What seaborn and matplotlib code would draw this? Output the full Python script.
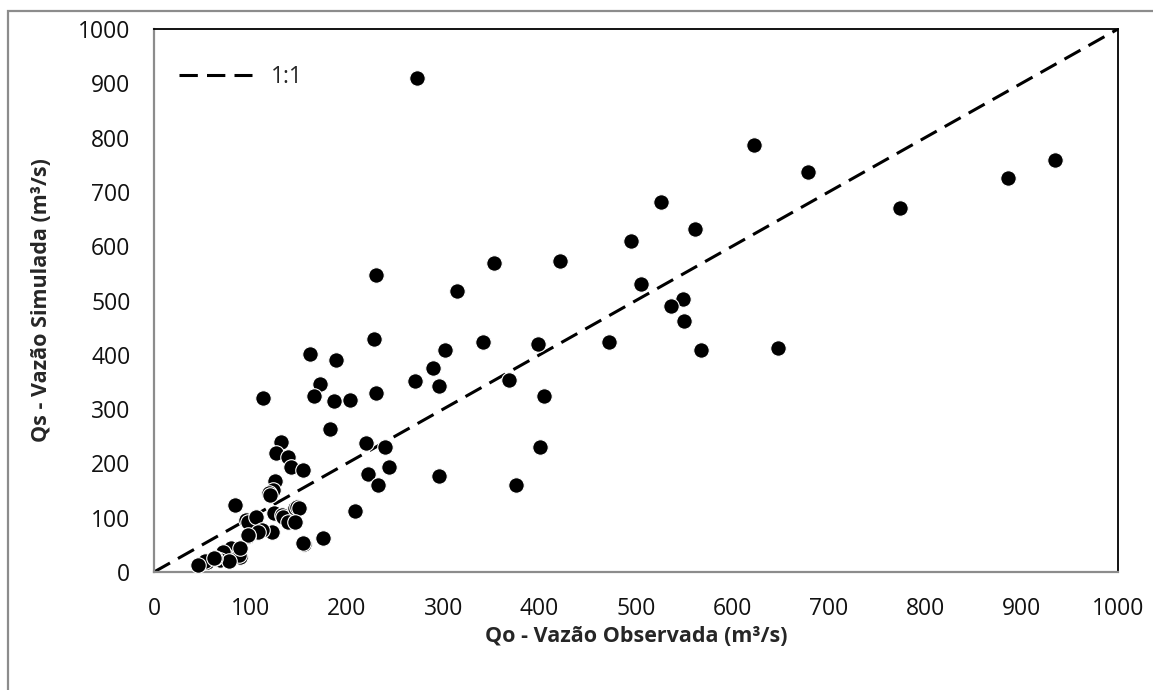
import matplotlib.pyplot as plt
import seaborn as sns
from matplotlib.patches import Rectangle

q_obs = [273, 622, 678, 526, 774, 886, 935, 561, 495, 353, 421, 230, 505, 314,
         549, 536, 550, 228, 302, 341, 398, 472, 567, 647, 162, 189, 289, 271,
         296, 368, 405, 400, 296, 376,
         113, 172, 166, 187, 203, 230, 183, 132, 127, 139, 142, 155, 125, 123,
         119, 120, 220, 240, 244, 222, 232, 208, 84, 95, 98, 106, 124, 133, 134,
         146, 148, 150, 139, 146, 122, 112, 108, 97, 98, 156, 175, 155,
         82, 80, 89, 88, 74, 72, 68, 78, 55, 53, 46, 63, 62, 89]
q_sim = [910, 787, 737, 682, 670, 725, 758, 631, 610, 569, 573, 547, 530, 517,
         503, 489, 463, 430, 409, 423, 420, 423, 409, 412, 401, 390, 375, 351,
         342, 354, 325, 230, 176, 160,
         321, 347, 325, 314, 317, 329, 263, 239, 219, 211, 193, 187, 167, 151,
         146, 142, 237, 230, 193, 180, 160, 113, 124, 96, 93, 102, 108, 105, 102,
         117, 119, 117, 93, 93, 74, 77, 74, 67, 68, 52, 62, 53,
         40, 44, 28, 31, 31, 37, 22, 20, 19, 21, 13, 25, 25, 44]
line_x = [0, 1000]
line_y = [0, 1000]
ticks = list(range(0, 1001, 100))

sns.set_style("white")
plt.rcParams['font.family'] = ['Open Sans', 'DejaVu Sans']

W, H = 1153, 690
fig = plt.figure(figsize=(W / 100, H / 100), dpi=100)
ax = fig.add_axes([154 / W, 1 - 572 / H, (1118 - 154) / W, (572 - 29) / H])

# outer chart frame (only left and top edges visible)
fig.patches.append(Rectangle((8 / W, -0.1), 1.2, (H - 11) / H + 0.1,
                             transform=fig.transFigure, fill=False,
                             edgecolor='#8c8c8c', linewidth=1.6, clip_on=False))

sns.lineplot(x=line_x, y=line_y, ax=ax, color='black', linewidth=2.2,
             linestyle=(0, (6, 3)), label='1:1', zorder=2)
sns.scatterplot(x=q_obs, y=q_sim, ax=ax, color='black', s=125,
                edgecolor='white', linewidth=0.8, zorder=3, legend=False)

ax.set_xlim(0, 1000)
ax.set_ylim(0, 1000)
ax.set_xticks(ticks)
ax.set_yticks(ticks)
ax.tick_params(direction='out', length=6, width=1.2, color='#8c8c8c',
               labelsize=16.5, labelcolor='#111111')
ax.tick_params(axis='x', pad=12)
ax.tick_params(axis='y', pad=11)

for side in ['left', 'bottom']:
    ax.spines[side].set_color('#8c8c8c')
    ax.spines[side].set_linewidth(1.6)
for side in ['top', 'right']:
    ax.spines[side].set_color('black')
    ax.spines[side].set_linewidth(1.3)

ax.set_xlabel('Qo - Vazão Observada (m³/s)', fontsize=15.5, fontweight='bold')
ax.set_ylabel('Qs - Vazão Simulada (m³/s)', fontsize=15.5, fontweight='bold')
ax.xaxis.set_label_coords(0.5, -0.1)
ax.yaxis.set_label_coords(-0.106, 0.5)

ax.legend(loc='upper left', bbox_to_anchor=(0.002, 0.975), frameon=False,
          handlelength=3.2, fontsize=16.5, borderaxespad=0.6)

fig.savefig('out.png', dpi=100)
